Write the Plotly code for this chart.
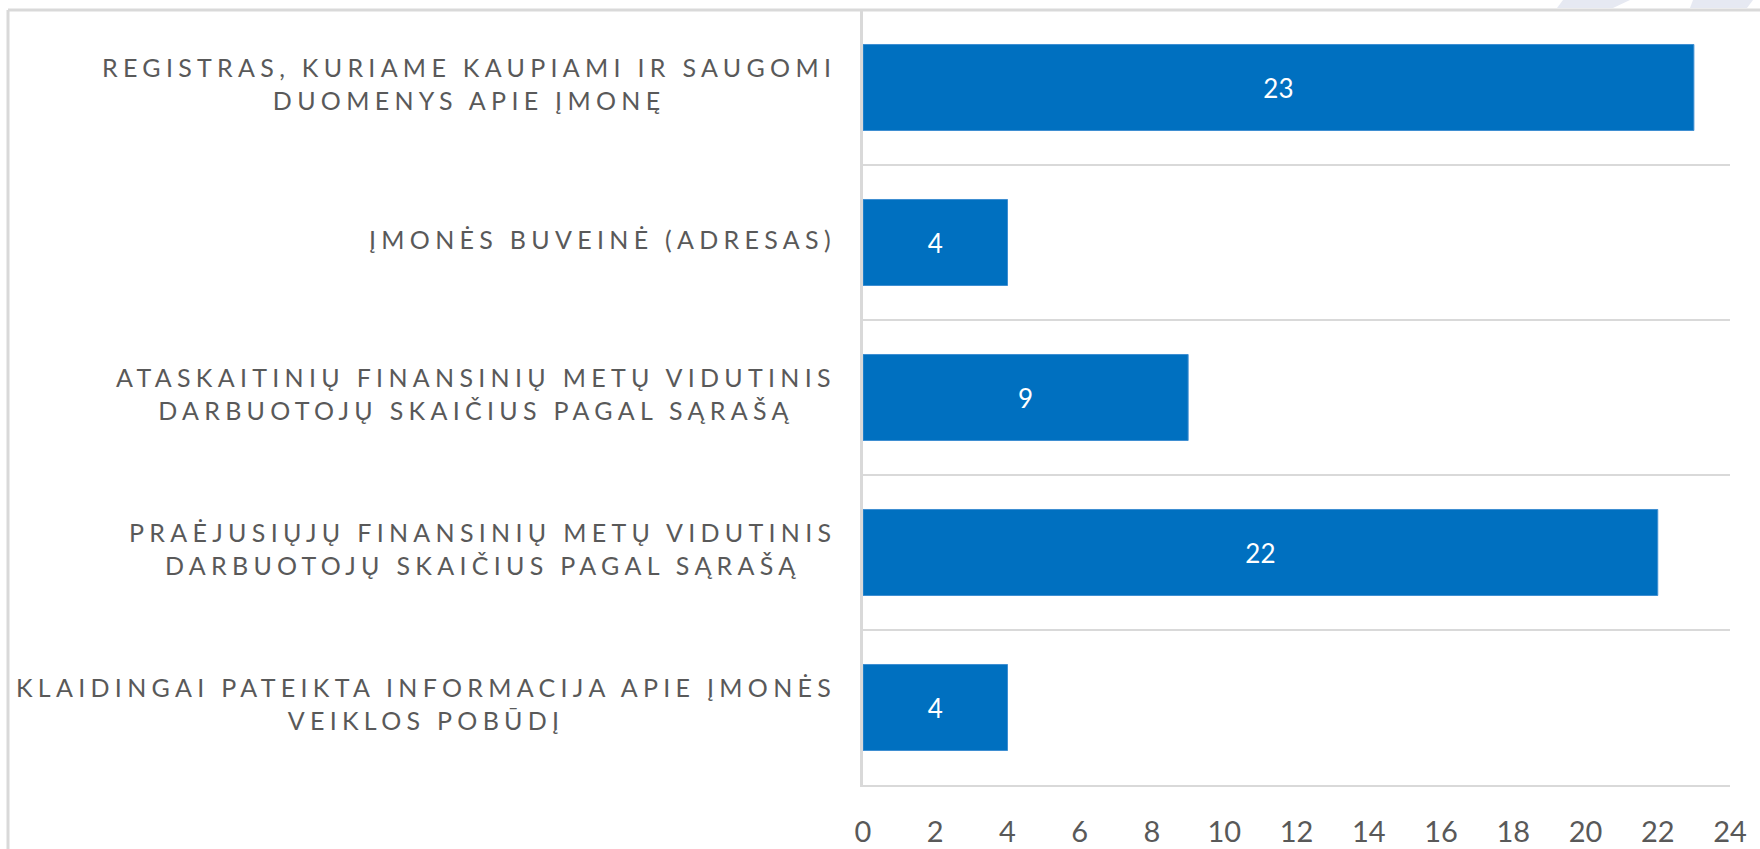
import plotly.graph_objects as go

# data
categories = [
    "REGISTRAS, KURIAME KAUPIAMI IR SAUGOMI<br>DUOMENYS APIE ĮMONĘ",
    "ĮMONĖS BUVEINĖ (ADRESAS)",
    "ATASKAITINIŲ FINANSINIŲ METŲ VIDUTINIS<br>DARBUOTOJŲ SKAIČIUS PAGAL SĄRAŠĄ",
    "PRAĖJUSIŲJŲ FINANSINIŲ METŲ VIDUTINIS<br>DARBUOTOJŲ SKAIČIUS PAGAL SĄRAŠĄ",
    "KLAIDINGAI PATEIKTA INFORMACIJA APIE ĮMONĖS<br>VEIKLOS POBŪDĮ",
]
values = [23, 4, 9, 22, 4]
x_ticks = [0, 2, 4, 6, 8, 10, 12, 14, 16, 18, 20, 22, 24]

W, H = 1760, 849
L, R, T, B = 863, 30, 10, 64
GRAY = "#d9d9d9"
TEXT = "#595959"
BLUE = "#0070c0"


def px(x, y):
    # pixel position -> paper coordinates
    pw = W - L - R
    ph = H - T - B
    return (x - L) / pw, (H - B - y) / ph


fig = go.Figure()
fig.add_trace(go.Bar(
    x=values,
    y=categories,
    orientation="h",
    marker=dict(color=BLUE, line=dict(color="#3f8fd2", width=1)),
    text=values,
    textposition="inside",
    insidetextanchor="middle",
    textangle=0,
    constraintext="none",
    textfont=dict(family="Lato", size=26, color="white"),
    hoverinfo="x+y",
))

for cat in categories:
    fig.add_annotation(
        x=0, y=cat, xref="x", yref="y",
        text=cat, showarrow=False,
        xanchor="right", align="center", xshift=-25, yshift=4,
        font=dict(family="Lato", size=25, color=TEXT),
    )

# outer frame and the faint stripes at the top right
x0, y0 = px(8, 10)
x1, y1 = px(W, H)
fig.add_shape(type="line", xref="paper", yref="paper", x0=x0, y0=y0, x1=x1, y1=y0,
              line=dict(color=GRAY, width=3))
fig.add_shape(type="line", xref="paper", yref="paper", x0=x0, y0=y0, x1=x0, y1=y1,
              line=dict(color=GRAY, width=3))
for a, b, c, d in [(1563, 1630, 1613, 1557), (1693, 1753, 1747, 1690)]:
    pts = [px(a, 0), px(b, 0), px(c, 8), px(d, 8)]
    path = "M " + " L ".join(f"{p[0]},{p[1]}" for p in pts) + " Z"
    fig.add_shape(type="path", xref="paper", yref="paper", path=path,
                  fillcolor="#e6e9f2", line=dict(width=0), layer="below")

fig.update_layout(
    width=W,
    height=H,
    margin=dict(l=L, r=R, t=T, b=B),
    paper_bgcolor="white",
    plot_bgcolor="white",
    bargap=0.445,
    showlegend=False,
    xaxis=dict(
        range=[0, 24],
        tickvals=x_ticks,
        showgrid=False,
        zeroline=False,
        showline=True,
        linecolor=GRAY,
        linewidth=2,
        ticks="",
        ticklabelstandoff=20,
        automargin=False,
        tickfont=dict(family="Lato", size=29, color=TEXT),
    ),
    yaxis=dict(
        autorange="reversed",
        showticklabels=False,
        automargin=False,
        ticks="",
        tickson="boundaries",
        showgrid=True,
        gridcolor=GRAY,
        gridwidth=2,
        zeroline=False,
        showline=True,
        linecolor=GRAY,
        linewidth=3,
    ),
)

# no page margin, and letter-spaced category labels like the original
# (font size nudged so plotly re-measures the labels with the spacing)
post = """
var gd = document.getElementById('{plot_id}');
document.body.style.margin = '0';
var st = document.createElement('style');
st.textContent = '.annotation-text{letter-spacing:5.3px}';
document.head.appendChild(st);
var upd = {};
for (var i = 0; i < gd.layout.annotations.length; i++) {
    upd['annotations[' + i + '].font.size'] = 25.01;
}
Plotly.relayout(gd, upd);
"""

fig.write_html("out.html", post_script=post, config={"displayModeBar": False})
